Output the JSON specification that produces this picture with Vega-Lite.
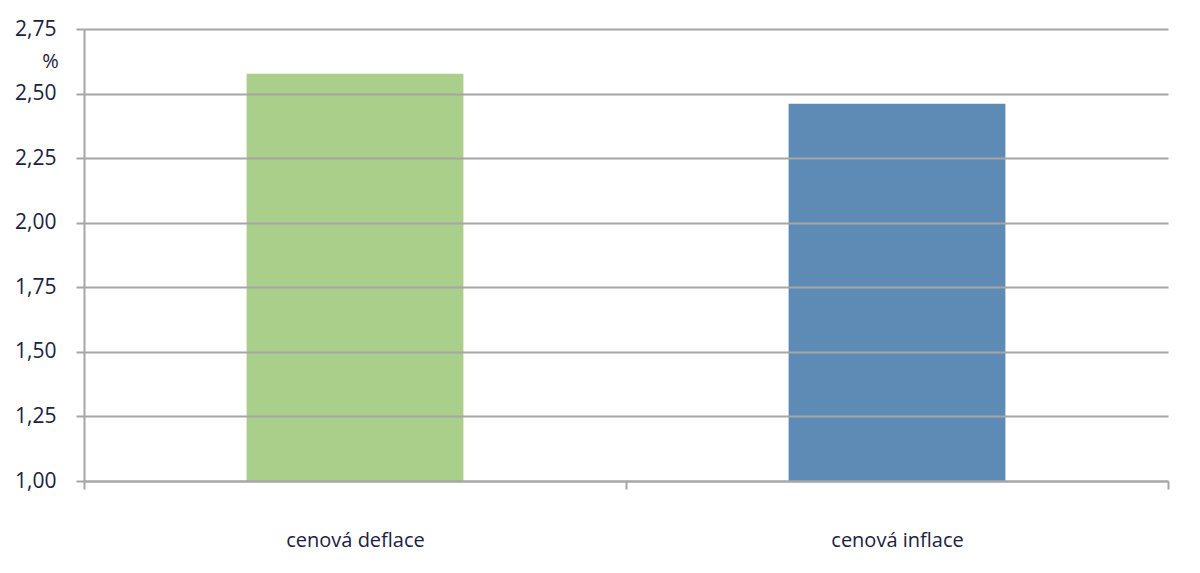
{
  "$schema": "https://vega.github.io/schema/vega-lite/v6.json",
  "width": 1084,
  "height": 452,
  "autosize": {"type": "none"},
  "padding": {"left": 84, "top": 29, "right": 32, "bottom": 92},
  "background": "white",
  "data": {"values": [
    {"kategorie": "cenová deflace", "hodnota": 2.577},
    {"kategorie": "cenová inflace", "hodnota": 2.461}
  ]},
  "mark": {"type": "bar", "opacity": 1, "clip": true, "width": {"band": 0.4}},
  "encoding": {
    "x": {
      "field": "kategorie", "type": "nominal", "sort": null,
      "scale": {"paddingInner": 0, "paddingOuter": 0},
      "axis": {
        "title": null, "labelAngle": 0, "tickBand": "extent",
        "domainColor": "#a6a6a6", "domainWidth": 2, "tickColor": "#a6a6a6", "tickWidth": 2, "tickSize": 8,
        "labelFont": "Open Sans", "labelFontSize": 20, "labelColor": "#1c2140", "labelPadding": 41, "zindex": 1
      }
    },
    "y": {
      "field": "hodnota", "type": "quantitative",
      "scale": {"domain": [1, 2.75], "zero": false, "nice": false},
      "axis": {
        "values": [1, 1.25, 1.5, 1.75, 2, 2.25, 2.5, 2.75],
        "labelExpr": "replace(format(datum.value, '.2f'), '.', ',')",
        "title": "%", "titleAngle": 0, "titleX": -34, "titleY": 32, "titleAlign": "center", "titleBaseline": "middle",
        "titleFont": "Open Sans", "titleFontSize": 20, "titleFontWeight": "normal", "titleColor": "#1c2140",
        "labelFont": "Open Sans", "labelFontSize": 21, "labelColor": "#1c2140", "labelPadding": 20,
        "grid": true, "gridColor": "#a6a6a6", "gridWidth": 2,
        "domainColor": "#a6a6a6", "domainWidth": 2, "tickColor": "#a6a6a6", "tickWidth": 2, "tickSize": 8,
        "zindex": 1
      }
    },
    "color": {
      "field": "kategorie", "type": "nominal", "legend": null,
      "scale": {"domain": ["cenová deflace", "cenová inflace"], "range": ["#a9cf8b", "#5e8bb5"]}
    }
  },
  "config": {"view": {"stroke": null}}
}
